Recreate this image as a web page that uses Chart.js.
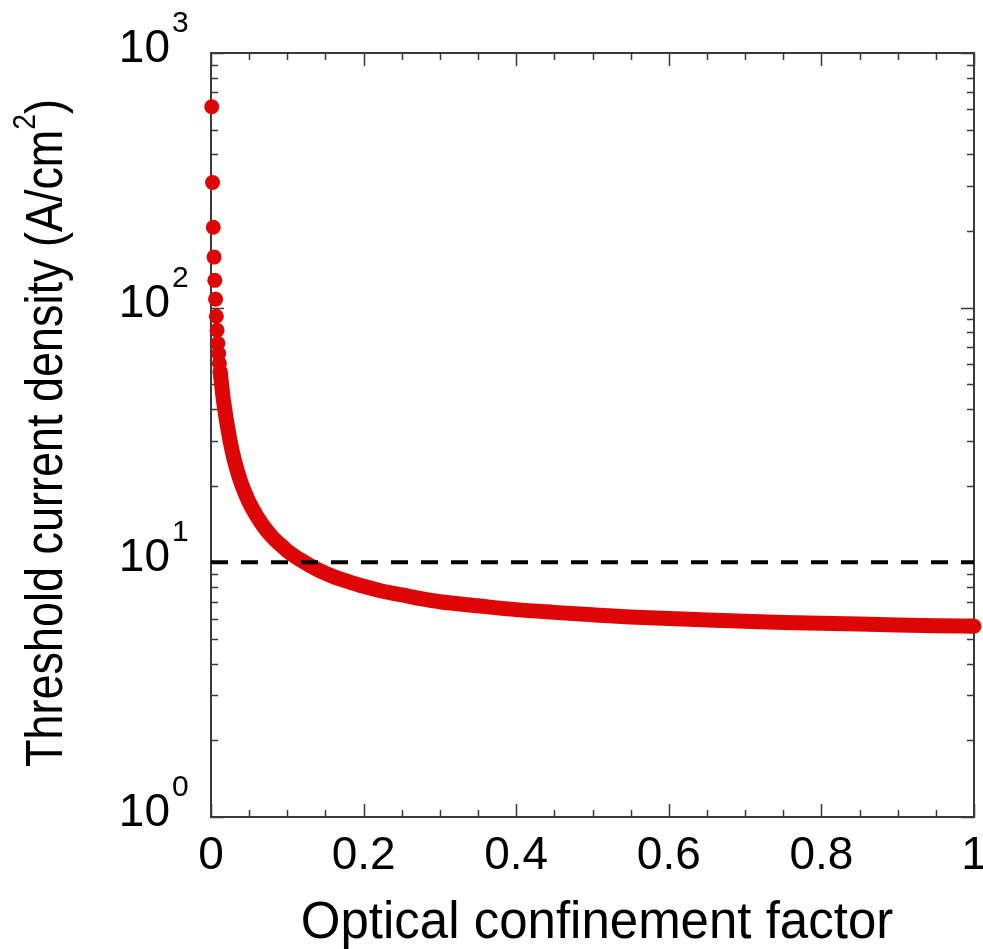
<!DOCTYPE html>
<html>
<head>
<meta charset="utf-8">
<script src="https://cdn.jsdelivr.net/npm/chart.js@4/dist/chart.umd.min.js"></script>
<style>
  html, body { margin: 0; padding: 0; background: #ffffff; }
  #wrap { width: 983px; height: 949px; position: relative; }
</style>
</head>
<body>
<div id="wrap"><canvas id="c" width="983" height="949"></canvas></div>
<script>
// ---- data ----
const xTitle = "Optical confinement factor";
const yTitleMain = "Threshold current density (A/cm";
const yTitleSup = "2";
const yTitleEnd = ")";

const xTickValues = [0, 0.2, 0.4, 0.6, 0.8, 1];
const xTickLabels = ["0", "0.2", "0.4", "0.6", "0.8", "1"];
const yTickValues = [1, 10, 100, 1000];
const yTickExponents = ["0", "1", "2", "3"];

// separate dots at the smallest confinement factors
const gammaDots = [0.001, 0.002, 0.003, 0.004, 0.005, 0.006, 0.007, 0.008, 0.009, 0.010, 0.011, 0.012];
const jDots     = [615,   310,   207,   158,   128,   108,   92.5,  81.5,  72.5,  66,    60.5,  56];

// dense run of points (merged into a thick band)
const gammaCurve = [0.012, 0.014, 0.016, 0.018, 0.020, 0.025, 0.030, 0.035, 0.040,
                    0.045, 0.050, 0.060, 0.070, 0.080, 0.090, 0.100, 0.120, 0.140, 0.160,
                    0.180, 0.200, 0.225, 0.250, 0.275, 0.300, 0.350, 0.400, 0.450, 0.500,
                    0.550, 0.600, 0.650, 0.700, 0.750, 0.800, 0.850, 0.900, 0.950, 1.000];
const jCurve     = [56,    49.5,  44,    40,    36.5,  30,    25.6,  22.6,  20.3,
                    18.6,  17.2,  15.2,  13.7,  12.6,  11.8,  11.1,  10.1,  9.35,  8.8,
                    8.4,   8.05,  7.7,   7.45,  7.2,   7.0,   6.75,  6.52,  6.36,  6.22,
                    6.1,   6.02,  5.94,  5.87,  5.81,  5.76,  5.72,  5.68,  5.64,  5.61];

// dashed reference level
const refX = [0, 1];
const refY = [10, 10];

const RED = '#dd0505';
const FONT = '"Liberation Sans", Arial, sans-serif';

const toXY = (xs, ys) => xs.map((x, i) => ({ x: x, y: ys[i] }));

const framePlugin = {
  id: 'frame',
  beforeDatasetsDraw(chart) {
    const ctx = chart.ctx;
    const a = chart.chartArea;
    const xs = chart.scales.x, ys = chart.scales.y;
    ctx.save();
    ctx.strokeStyle = '#3a3a3a';
    ctx.lineWidth = 2;
    ctx.strokeRect(a.left, a.top, a.right - a.left, a.bottom - a.top);
    ctx.lineWidth = 1.5;
    ctx.beginPath();
    // x ticks every 0.05, major every 0.2
    for (let k = 0; k <= 20; k++) {
      const v = k * 0.05;
      const px = Math.round(xs.getPixelForValue(v)) + 0.5;
      const len = (k % 4 === 0) ? 13 : 7;
      ctx.moveTo(px, a.bottom); ctx.lineTo(px, a.bottom - len);
      ctx.moveTo(px, a.top); ctx.lineTo(px, a.top + len);
    }
    // y log ticks
    for (let d = 0; d <= 3; d++) {
      for (let m = 1; m <= 9; m++) {
        const v = m * Math.pow(10, d);
        if (v > 1000) break;
        const py = Math.round(ys.getPixelForValue(v)) + 0.5;
        const len = (m === 1) ? 13 : 7;
        ctx.moveTo(a.left, py); ctx.lineTo(a.left + len, py);
        ctx.moveTo(a.right, py); ctx.lineTo(a.right - len, py);
      }
    }
    ctx.stroke();
    ctx.restore();
  },
  afterDraw(chart) {
    const ctx = chart.ctx;
    const xs = chart.scales.x, ys = chart.scales.y;
    ctx.save();
    ctx.fillStyle = '#000000';
    // x tick labels
    ctx.font = '46px ' + FONT;
    ctx.textAlign = 'center';
    ctx.textBaseline = 'alphabetic';
    xTickValues.forEach((v, i) => {
      ctx.fillText(xTickLabels[i], xs.getPixelForValue(v), 869);
    });
    // y tick labels 10^n
    yTickValues.forEach((v, i) => {
      const py = ys.getPixelForValue(v);
      ctx.font = '46px ' + FONT;
      ctx.textAlign = 'right';
      ctx.fillText('10', 170, py + 9);
      ctx.font = '30px ' + FONT;
      ctx.textAlign = 'left';
      ctx.fillText(yTickExponents[i], 172, py - 21);
    });
    // x title
    ctx.font = '51px ' + FONT;
    ctx.textAlign = 'center';
    ctx.fillText(xTitle, 597, 938);
    // y title (rotated)
    ctx.translate(45, 433);
    ctx.rotate(-Math.PI / 2);
    ctx.font = '51px ' + FONT;
    const w1 = ctx.measureText(yTitleMain).width;
    const w3 = ctx.measureText(yTitleEnd).width;
    ctx.font = '32px ' + FONT;
    const w2 = ctx.measureText(yTitleSup).width;
    const total = w1 + w2 + w3;
    const sx = 668 / total;
    ctx.scale(sx, 1);
    ctx.textAlign = 'left';
    let x0 = -total / 2;
    ctx.font = '51px ' + FONT;
    ctx.fillText(yTitleMain, x0, 17);
    ctx.font = '32px ' + FONT;
    ctx.fillText(yTitleSup, x0 + w1, -10);
    ctx.font = '51px ' + FONT;
    ctx.fillText(yTitleEnd, x0 + w1 + w2, 17);
    ctx.restore();
  }
};

new Chart(document.getElementById('c'), {
  type: 'scatter',
  data: {
    datasets: [
      {
        label: 'reference',
        type: 'line',
        data: toXY(refX, refY),
        borderColor: '#000000',
        borderWidth: 4,
        borderDash: [17, 13],
        pointRadius: 0,
        fill: false,
        order: 0,
        clip: false
      },
      {
        label: 'dots',
        data: toXY(gammaDots, jDots),
        backgroundColor: RED,
        borderColor: RED,
        pointRadius: 7.5,
        pointBorderWidth: 0,
        showLine: false,
        order: 1,
        clip: false
      },
      {
        label: 'band',
        type: 'line',
        data: toXY(gammaCurve, jCurve),
        borderColor: RED,
        borderWidth: 15,
        borderCapStyle: 'round',
        borderJoinStyle: 'round',
        cubicInterpolationMode: 'monotone',
        pointRadius: 0,
        fill: false,
        order: 2,
        clip: false
      }
    ]
  },
  options: {
    responsive: false,
    animation: false,
    events: [],
    layout: { padding: { left: 0, top: 53, right: 9, bottom: 0 } },
    plugins: { legend: { display: false }, tooltip: { enabled: false } },
    scales: {
      x: {
        type: 'linear', min: 0, max: 1,
        ticks: { display: false },
        grid: { display: false },
        border: { display: false },
        afterFit(s) { s.height = 132; }
      },
      y: {
        type: 'logarithmic', min: 1, max: 1000,
        ticks: { display: false },
        grid: { display: false },
        border: { display: false },
        afterFit(s) { s.width = 211; }
      }
    }
  },
  plugins: [framePlugin]
});
</script>
</body>
</html>
